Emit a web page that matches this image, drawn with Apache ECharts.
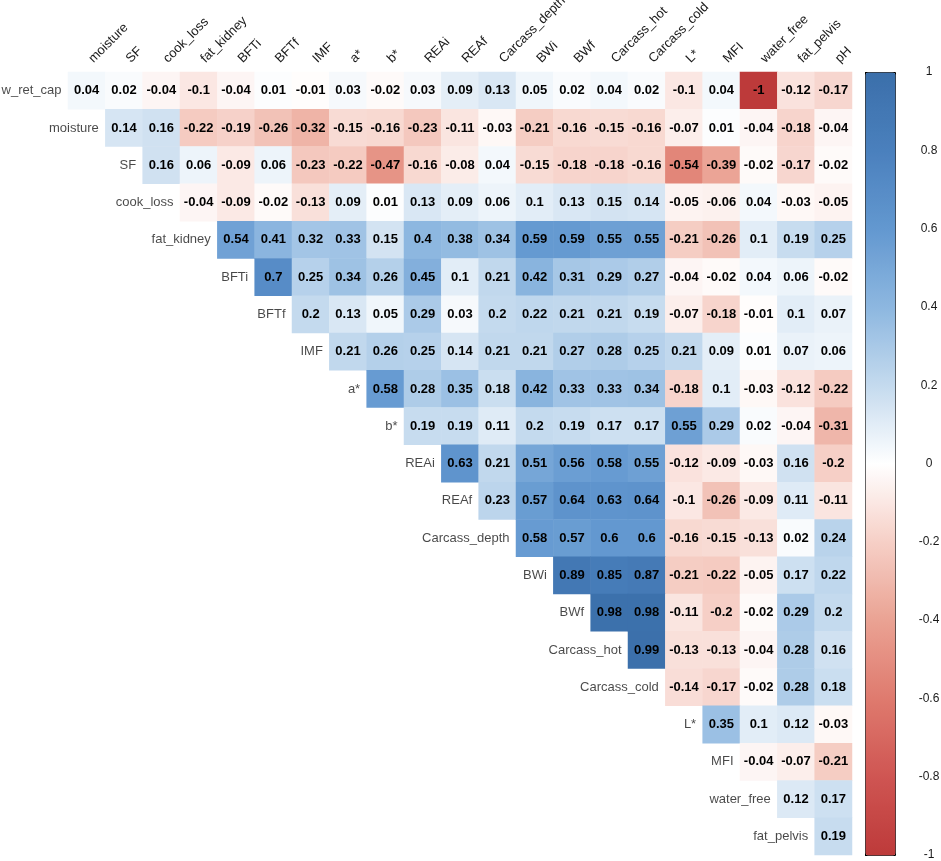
<!DOCTYPE html>
<html>
<head>
<meta charset="utf-8">
<script src="https://cdn.jsdelivr.net/npm/echarts@6/dist/echarts.min.js"></script>
<style>
  html, body { margin: 0; padding: 0; background: #fff; }
  #main { width: 941px; height: 861px; }
</style>
</head>
<body>
<div id="main"></div>
<script>
// column labels (top) and row labels (left, along the diagonal)
var colNames = ['moisture', 'SF', 'cook_loss', 'fat_kidney', 'BFTi', 'BFTf', 'IMF', 'a*', 'b*',
    'REAi', 'REAf', 'Carcass_depth', 'BWi', 'BWf', 'Carcass_hot', 'Carcass_cold', 'L*', 'MFI',
    'water_free', 'fat_pelvis', 'pH'];
var rowNames = ['w_ret_cap', 'moisture', 'SF', 'cook_loss', 'fat_kidney', 'BFTi', 'BFTf', 'IMF',
    'a*', 'b*', 'REAi', 'REAf', 'Carcass_depth', 'BWi', 'BWf', 'Carcass_hot', 'Carcass_cold',
    'L*', 'MFI', 'water_free', 'fat_pelvis'];

// upper triangle, row i starts at column i
var corrValues = [
    [0.04, 0.02, -0.04, -0.1, -0.04, 0.01, -0.01, 0.03, -0.02, 0.03, 0.09, 0.13, 0.05, 0.02, 0.04, 0.02, -0.1, 0.04, -1, -0.12, -0.17],
    [0.14, 0.16, -0.22, -0.19, -0.26, -0.32, -0.15, -0.16, -0.23, -0.11, -0.03, -0.21, -0.16, -0.15, -0.16, -0.07, 0.01, -0.04, -0.18, -0.04],
    [0.16, 0.06, -0.09, 0.06, -0.23, -0.22, -0.47, -0.16, -0.08, 0.04, -0.15, -0.18, -0.18, -0.16, -0.54, -0.39, -0.02, -0.17, -0.02],
    [-0.04, -0.09, -0.02, -0.13, 0.09, 0.01, 0.13, 0.09, 0.06, 0.1, 0.13, 0.15, 0.14, -0.05, -0.06, 0.04, -0.03, -0.05],
    [0.54, 0.41, 0.32, 0.33, 0.15, 0.4, 0.38, 0.34, 0.59, 0.59, 0.55, 0.55, -0.21, -0.26, 0.1, 0.19, 0.25],
    [0.7, 0.25, 0.34, 0.26, 0.45, 0.1, 0.21, 0.42, 0.31, 0.29, 0.27, -0.04, -0.02, 0.04, 0.06, -0.02],
    [0.2, 0.13, 0.05, 0.29, 0.03, 0.2, 0.22, 0.21, 0.21, 0.19, -0.07, -0.18, -0.01, 0.1, 0.07],
    [0.21, 0.26, 0.25, 0.14, 0.21, 0.21, 0.27, 0.28, 0.25, 0.21, 0.09, 0.01, 0.07, 0.06],
    [0.58, 0.28, 0.35, 0.18, 0.42, 0.33, 0.33, 0.34, -0.18, 0.1, -0.03, -0.12, -0.22],
    [0.19, 0.19, 0.11, 0.2, 0.19, 0.17, 0.17, 0.55, 0.29, 0.02, -0.04, -0.31],
    [0.63, 0.21, 0.51, 0.56, 0.58, 0.55, -0.12, -0.09, -0.03, 0.16, -0.2],
    [0.23, 0.57, 0.64, 0.63, 0.64, -0.1, -0.26, -0.09, 0.11, -0.11],
    [0.58, 0.57, 0.6, 0.6, -0.16, -0.15, -0.13, 0.02, 0.24],
    [0.89, 0.85, 0.87, -0.21, -0.22, -0.05, 0.17, 0.22],
    [0.98, 0.98, -0.11, -0.2, -0.02, 0.29, 0.2],
    [0.99, -0.13, -0.13, -0.04, 0.28, 0.16],
    [-0.14, -0.17, -0.02, 0.28, 0.18],
    [0.35, 0.1, 0.12, -0.03],
    [-0.04, -0.07, -0.21],
    [0.12, 0.17],
    [0.19]
];

var paletteRdBu = ['#BD3A3A', '#CF5552', '#DF7A6E', '#EAA293', '#F6CFC6', '#FFFFFF',
    '#C4DAEE', '#8DB7E0', '#6398D0', '#4A80BD', '#3B6FAA'];

var FONT = 'Liberation Sans, Arial, sans-serif';
var gridL = 68, gridT = 72, gridW = 784, gridH = 783;
var cellW = gridW / colNames.length;

var cells = [];
var rowLabels = [];
corrValues.forEach(function (row, i) {
    row.forEach(function (v, k) {
        cells.push([i + k, i, v]);
    });
    rowLabels.push({ value: [i, i], name: rowNames[i] });
});

var myChart = echarts.init(document.getElementById('main'));

option = {
    animation: false,
    backgroundColor: '#fff',
    grid: [
        { left: gridL, top: gridT, width: gridW, height: gridH, outerBoundsMode: 'none' },
        { left: 865, top: gridT, width: 30, height: gridH, outerBoundsMode: 'none' }   // colour key axis
    ],
    xAxis: [
        {
            type: 'category',
            data: colNames,
            position: 'top',
            axisLine: { show: false },
            axisTick: { show: false },
            splitLine: { show: false },
            axisLabel: {
                rotate: -45,
                margin: 7,
                interval: 0,
                padding: [0, 0, 0, 6],
                fontSize: 13,
                fontFamily: FONT,
                color: '#1a1a1a'
            }
        },
        { type: 'value', gridIndex: 1, show: false, min: 0, max: 1 }
    ],
    yAxis: [
        {
            type: 'category',
            data: rowNames,
            inverse: true,
            axisLine: { show: false },
            axisTick: { show: false },
            axisLabel: { show: false },
            splitLine: { show: false }
        },
        {
            type: 'value',
            gridIndex: 1,
            position: 'right',
            min: -1,
            max: 1,
            interval: 0.2,
            axisLine: { show: true, lineStyle: { color: 'rgba(0,0,0,0)' } },
            splitLine: { show: false },
            axisTick: { show: true, length: 5, lineStyle: { color: '#000' } },
            axisLabel: {
                align: 'center',
                margin: 34,
                fontSize: 12,
                fontFamily: FONT,
                color: '#1a1a1a'
            }
        }
    ],
    visualMap: {
        type: 'continuous',
        seriesIndex: 0,
        min: -1,
        max: 1,
        calculable: false,
        left: 865,
        top: gridT,
        itemWidth: 30,
        itemHeight: gridH,
        padding: 0,
        borderWidth: 1,
        borderColor: '#000',
        text: null,
        showLabel: false,
        inRange: { color: paletteRdBu }
    },
    series: [
        {
            type: 'heatmap',
            data: cells,
            label: {
                show: true,
                fontSize: 13,
                fontWeight: 'bold',
                fontFamily: FONT,
                color: '#000',
                formatter: function (p) { return String(p.value[2]); }
            },
            itemStyle: { borderWidth: 0 }
        },
        {
            // row names sit just left of each row's first cell
            type: 'scatter',
            data: rowLabels,
            symbol: 'rect',
            symbolSize: 1,
            itemStyle: { color: 'rgba(0,0,0,0)' },
            label: {
                show: true,
                position: 'left',
                distance: cellW / 2 + 6,
                fontSize: 13,
                fontFamily: FONT,
                color: '#1a1a1a',
                formatter: function (p) { return p.name; }
            },
            silent: true
        }
    ]
};

myChart.setOption(option);
onresize = myChart.resize;
</script>
</body>
</html>
